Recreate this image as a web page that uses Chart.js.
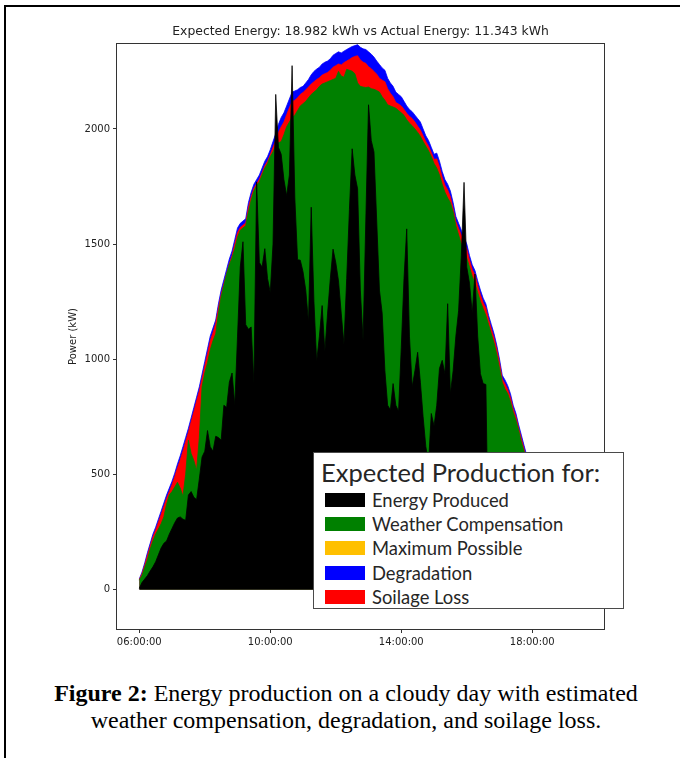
<!DOCTYPE html>
<html>
<head>
<meta charset="utf-8">
<script src="https://cdn.jsdelivr.net/npm/chart.js@4.4.1/dist/chart.umd.min.js"></script>
<style>
  html, body { margin: 0; padding: 0; background: #fff; }
  #page { position: relative; width: 680px; height: 758px; overflow: hidden; }
  #frame { position: absolute; left: 4px; top: 5px; width: 720px; height: 800px;
           border-left: 2px solid #000; border-top: 2px solid #000; }
  #wrap { position: absolute; left: 0; top: 0; width: 680px; height: 660px; }
  #legend { position: absolute; left: 313px; top: 452px; width: 309px; height: 155px;
            border: 1.5px solid #4a4a4a; background: #fff; font-family: Lato, sans-serif; color: #262626; }
  #legend .lt { position: absolute; left: 7px; top: 4px; font-size: 25.5px; line-height: 30px; white-space: nowrap; }
  #legend .row { position: absolute; left: 11px; height: 24px; line-height: 24px; font-size: 18.4px; white-space: nowrap; }
  #legend .sw { position: absolute; left: 0; top: 5px; width: 40px; height: 14px; }
  #legend .tx { position: absolute; left: 47px; top: 0; }
  #caption { position: absolute; left: 6px; top: 680px; width: 680px; text-align: center;
             font-family: "Liberation Serif", serif; font-size: 24px; line-height: 27px; color: #000; }
</style>
</head>
<body>
<div id="page">
  <div id="frame"></div>
  <div id="wrap"><canvas id="chart" width="680" height="660"></canvas></div>
  <div id="legend"><div class="lt">Expected Production for:</div></div>
  <div id="caption"><b>Figure 2:</b> Energy production on a cloudy day with estimated<br>weather compensation, degradation, and soilage loss.</div>
</div>
<script>
// Readings every 5 minutes, 06:00 to 19:30
const startHour = 6;
const stepMinutes = 5;

const produced = [
  5, 30, 45, 60, 80, 98, 120, 150, 180, 200,
  210, 240, 265, 290, 310, 315, 305, 300, 410, 425,
  400, 390, 480, 575, 600, 690, 620, 600, 665, 660,
  648, 800, 790, 900, 940, 800, 1100, 1400, 1510, 1150,
  1130, 1140, 896, 1770, 1420, 1400, 1480, 1350, 1290, 1500,
  2150, 1920, 1890, 1780, 1710, 1800, 2275, 1700, 1432, 1430,
  1380, 1300, 1160, 1660, 1250, 990, 1100, 1233, 1034, 1200,
  1350, 1478, 1420, 1340, 1200, 1064, 1350, 1650, 1914, 1800,
  1740, 1300, 1080, 1600, 2105, 1950, 1900, 1600, 1300, 1200,
  950, 800, 780, 894, 800, 774, 1050, 1350, 1566, 1100,
  880, 950, 1030, 900, 750, 620, 550, 764, 710, 800,
  960, 995, 937, 1241, 850, 950, 1100, 1210, 1450, 1768,
  1400, 1330, 1200, 1370, 1100, 937, 894, 890, 110, 100,
  95, 90, 85, 80, 78, 75, 70, 68, 65, 60,
  58, 55, 52, 50, 48, 45, 42, 40, 38, 35,
  32, 30, 28, 25, 22, 20, 18, 15, 12, 10,
  8, 5, 3
];

const weatherComp = [
  40, 60, 95, 130, 175, 210, 240, 262, 285, 315,
  370, 410, 425, 445, 465, 440, 405, 500, 648, 590,
  560, 518, 660, 880, 940, 985, 1040, 1080, 1110, 1200,
  1270, 1320, 1370, 1410, 1440, 1480, 1530, 1560, 1570, 1580,
  1640, 1690, 1730, 1755, 1770, 1800, 1830, 1850, 1880, 1900,
  1930, 1940, 1945, 1975, 2010, 2030, 2050, 2060, 2080, 2100,
  2110, 2120, 2135, 2150, 2160, 2170, 2185, 2195, 2200, 2205,
  2210, 2215, 2220, 2250, 2230, 2225, 2259, 2255, 2251, 2240,
  2200, 2185, 2182, 2180, 2182, 2175, 2172, 2167, 2160, 2140,
  2125, 2105, 2100, 2095, 2090, 2080, 2070, 2059, 2040, 2025,
  2014, 2000, 1985, 1968, 1945, 1925, 1905, 1880, 1850, 1830,
  1800, 1760, 1725, 1700, 1680, 1640, 1580, 1540, 1500, 1470,
  1440, 1400, 1360, 1330, 1290, 1250, 1220, 1190, 1150, 1110,
  1070, 1020, 960, 900, 870, 850, 815, 770, 735, 690,
  640, 600, 560, 525, 490, 465, 435, 405, 375, 345,
  315, 285, 255, 225, 195, 165, 135, 108, 85, 60,
  38, 20, 5
];

const soilage = [
  42, 68, 105, 148, 188, 228, 258, 292, 325, 360,
  395, 425, 455, 490, 528, 562, 600, 642, 683, 728,
  772, 818, 862, 915, 970, 1025, 1080, 1115, 1155, 1222,
  1282, 1328, 1372, 1415, 1450, 1500, 1550, 1572, 1582, 1592,
  1660, 1705, 1742, 1762, 1782, 1810, 1840, 1860, 1888, 1920,
  1950, 1985, 2010, 2030, 2062, 2092, 2118, 2125, 2135, 2150,
  2158, 2170, 2182, 2195, 2205, 2215, 2222, 2234, 2240, 2245,
  2255, 2268, 2275, 2282, 2278, 2288, 2295, 2302, 2310, 2315,
  2318, 2300, 2290, 2285, 2270, 2262, 2250, 2238, 2220, 2212,
  2205, 2175, 2155, 2140, 2115, 2108, 2100, 2085, 2068, 2055,
  2045, 2030, 2012, 1995, 1970, 1945, 1925, 1898, 1868, 1870,
  1835, 1790, 1755, 1735, 1705, 1655, 1598, 1568, 1538, 1508,
  1478, 1430, 1390, 1365, 1320, 1280, 1246, 1222, 1172, 1132,
  1092, 1043, 983, 914, 893, 868, 834, 785, 750, 700,
  655, 610, 566, 532, 498, 468, 439, 410, 381, 352,
  322, 293, 263, 233, 203, 173, 143, 114, 90, 65,
  42, 22, 8
];

const degradation = [
  45, 75, 115, 160, 200, 240, 270, 305, 340, 375,
  410, 440, 470, 505, 545, 580, 620, 660, 700, 745,
  790, 835, 880, 935, 990, 1045, 1100, 1135, 1170, 1240,
  1300, 1345, 1390, 1435, 1470, 1520, 1570, 1590, 1600, 1610,
  1680, 1725, 1760, 1780, 1800, 1830, 1860, 1880, 1910, 1945,
  1980, 2020, 2050, 2070, 2100, 2130, 2160, 2165, 2170, 2180,
  2185, 2200, 2215, 2235, 2250, 2260, 2268, 2282, 2290, 2295,
  2305, 2320, 2328, 2335, 2330, 2338, 2345, 2352, 2358, 2362,
  2366, 2355, 2348, 2345, 2335, 2325, 2312, 2295, 2280, 2265,
  2255, 2220, 2200, 2185, 2160, 2150, 2140, 2120, 2100, 2085,
  2075, 2060, 2045, 2030, 2000, 1970, 1950, 1920, 1890, 1895,
  1860, 1815, 1780, 1760, 1730, 1680, 1620, 1590, 1560, 1530,
  1500, 1450, 1410, 1385, 1340, 1300, 1265, 1240, 1190, 1150,
  1110, 1060, 1000, 930, 910, 885, 850, 800, 765, 715,
  670, 625, 580, 545, 510, 480, 450, 420, 390, 360,
  330, 300, 270, 240, 210, 180, 150, 120, 95, 70,
  45, 25, 10
];

const legendLabels = ['Energy Produced', 'Weather Compensation', 'Maximum Possible', 'Degradation', 'Soilage Loss'];
const legendColors = ['#000000', '#008000', '#FFC000', '#0000FF', '#FF0000'];

const xTickHours = [6, 10, 14, 18];
const yTickValues = [0, 500, 1000, 1500, 2000];
const titleText = 'Expected Energy: 18.982 kWh vs Actual Energy: 11.343 kWh';

// time axis in hours
const hours = produced.map((_, i) => startHour + i * stepMinutes / 60);
const pts = arr => arr.map((v, i) => ({ x: hours[i], y: v }));

// legend box (pasted style, drawn in html)
const legendBox = document.getElementById('legend');
legendLabels.forEach((lab, i) => {
  const row = document.createElement('div');
  row.className = 'row';
  row.style.top = (35 + i * 24.2) + 'px';
  row.innerHTML = `<span class="sw" style="background:${legendColors[i]}"></span><span class="tx">${lab}</span>`;
  legendBox.appendChild(row);
});

function area(label, data, color) {
  return {
    label: label,
    data: pts(data),
    backgroundColor: color,
    borderColor: color,
    borderWidth: 0.8,
    pointRadius: 0,
    fill: 'origin',
    tension: 0
  };
}

// box around the axes + title over the plot
const boxAndTitle = {
  id: 'boxAndTitle',
  afterDraw(chart) {
    const { ctx, chartArea: a } = chart;
    ctx.save();
    ctx.strokeStyle = '#333';
    ctx.lineWidth = 1;
    ctx.strokeRect(a.left - 0.5, a.top - 0.5, a.right - a.left + 1, a.bottom - a.top + 1);
    ctx.fillStyle = '#222';
    ctx.font = '12.4px "DejaVu Sans"';
    ctx.textAlign = 'center';
    ctx.textBaseline = 'middle';
    ctx.fillText(titleText, (a.left + a.right) / 2, 32);
    ctx.restore();
  }
};

const tickFont = { family: 'DejaVu Sans', size: 10 };

new Chart(document.getElementById('chart').getContext('2d'), {
  type: 'line',
  data: {
    datasets: [
      area('Energy Produced', produced, '#000000'),
      area('Weather Compensation', weatherComp, '#008000'),
      area('Soilage Loss', soilage, '#FF0000'),
      area('Degradation', degradation, '#0000FF')
    ]
  },
  options: {
    responsive: false,
    animation: false,
    layout: { padding: { left: 0, right: 76, top: 44, bottom: 0 } },
    plugins: { legend: { display: false }, tooltip: { enabled: false }, title: { display: false } },
    scales: {
      x: {
        type: 'linear',
        min: 5.32,
        max: 20.19,
        afterBuildTicks: s => { s.ticks = xTickHours.map(v => ({ value: v })); },
        afterFit: s => { s.height = 31; },
        ticks: {
          font: tickFont, color: '#222', padding: 3, maxRotation: 0,
          callback: v => String(v).padStart(2, '0') + ':00:00'
        },
        grid: { drawOnChartArea: false, drawTicks: true, tickLength: 4, tickColor: '#333' },
        border: { display: false }
      },
      y: {
        min: -172,
        max: 2369,
        afterBuildTicks: s => { s.ticks = yTickValues.map(v => ({ value: v })); },
        afterFit: s => { s.width = 117; },
        ticks: { font: tickFont, color: '#222', padding: 3, callback: v => String(v) },
        grid: { drawOnChartArea: false, drawTicks: true, tickLength: 4, tickColor: '#333' },
        border: { display: false },
        title: { display: true, text: 'Power (kW)', font: tickFont, color: '#222', padding: { top: 67, bottom: 0 } }
      }
    }
  },
  plugins: [boxAndTitle]
});
</script>
</body>
</html>
